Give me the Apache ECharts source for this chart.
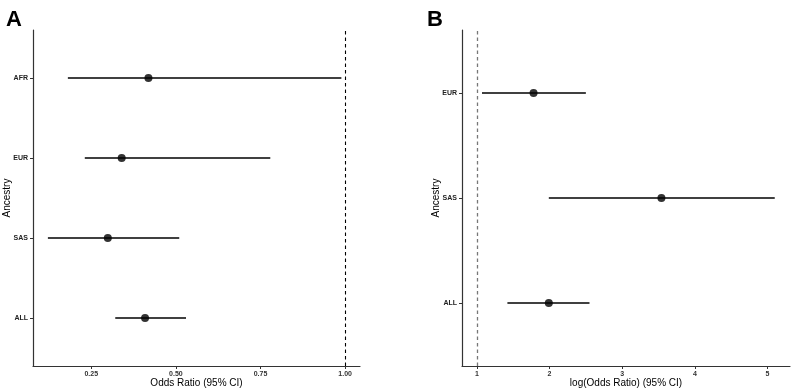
<!DOCTYPE html>
<html>
<head>
<meta charset="utf-8">
<script src="https://cdn.jsdelivr.net/npm/echarts@6/dist/echarts.min.js"></script>
<style>
  html, body { margin: 0; padding: 0; background: #fff; }
  #chart { width: 791px; height: 388px; }
</style>
</head>
<body>
<div id="chart"></div>
<script>
// panel A: odds ratio, bottom to top
const catsA = ['ALL', 'SAS', 'EUR', 'AFR']
const orA = [0.409, 0.299, 0.340, 0.419]
const lowA = [0.321, 0.122, 0.231, 0.181]
const highA = [0.530, 0.510, 0.779, 0.989]
const ticksA = [0.25, 0.5, 0.75, 1.0]

// panel B: log(odds ratio), bottom to top
const catsB = ['ALL', 'SAS', 'EUR']
const orB = [1.99, 3.54, 1.78]
const lowB = [1.42, 1.99, 1.07]
const highB = [2.55, 5.10, 2.50]
const ticksB = [1, 2, 3, 4, 5]

const FONT = 'Liberation Sans'
const AXIS = '#333'

function rows(cats, or, low, high) {
  return cats.map((c, i) => [or[i], i + 1, low[i], high[i]])
}

function errRender(params, api) {
  const y = api.value(1)
  const p1 = api.coord([api.value(2), y])
  const p2 = api.coord([api.value(3), y])
  return {
    type: 'line',
    shape: { x1: p1[0], y1: p1[1], x2: p2[0], y2: p2[1] },
    style: { stroke: '#000', lineWidth: 1.3 },
  }
}

function xAxis(idx, min, max, ticks, name, fmt) {
  return {
    type: 'value', gridIndex: idx, min, max,
    name, nameLocation: 'middle', nameGap: 17, nameMoveOverlap: false,
    nameTextStyle: { fontFamily: FONT, fontSize: 10, color: '#000', verticalAlign: 'middle' },
    splitLine: { show: false },
    axisLine: { show: true, lineStyle: { color: AXIS, width: 1.2 } },
    axisTick: { show: true, customValues: ticks, length: 3, lineStyle: { color: AXIS } },
    axisLabel: { customValues: ticks, formatter: fmt, margin: 5, fontFamily: FONT, fontSize: 7, fontWeight: 'bold', color: '#333' },
  }
}

function yAxis(idx, cats) {
  const pos = cats.map((c, i) => i + 1)
  return {
    type: 'value', gridIndex: idx, min: 0.4, max: cats.length + 0.6,
    name: 'Ancestry', nameLocation: 'middle', nameGap: 26, nameRotate: 90, nameMoveOverlap: false,
    nameTextStyle: { fontFamily: FONT, fontSize: 10, color: '#000', verticalAlign: 'middle' },
    splitLine: { show: false },
    axisLine: { show: true, lineStyle: { color: AXIS, width: 1.2 } },
    axisTick: { show: true, customValues: pos, length: 3, lineStyle: { color: AXIS } },
    axisLabel: { customValues: pos, formatter: (v) => cats[Math.round(v) - 1], margin: 5, fontFamily: FONT, fontSize: 7, fontWeight: 'bold', color: '#222' },
  }
}

function refLine(color, width) {
  return {
    silent: true, symbol: 'none', label: { show: false },
    lineStyle: { type: [3.5, 3], color, width },
    data: [{ xAxis: 1 }],
  }
}

const chart = echarts.init(document.getElementById('chart'))
chart.setOption({
  animation: false,
  title: [
    { text: 'A', left: 1, top: 4, textStyle: { fontFamily: FONT, fontSize: 22, fontWeight: 'bold', color: '#000' } },
    { text: 'B', left: 422, top: 4, textStyle: { fontFamily: FONT, fontSize: 22, fontWeight: 'bold', color: '#000' } },
  ],
  grid: [
    { left: 33, top: 30, width: 327, height: 336, outerBoundsMode: 'none', containLabel: false },
    { left: 462, top: 30, width: 328, height: 336, outerBoundsMode: 'none', containLabel: false },
  ],
  xAxis: [
    xAxis(0, 0.078, 1.044, ticksA, 'Odds Ratio (95% CI)', (v) => v.toFixed(2)),
    xAxis(1, 0.795, 5.31, ticksB, 'log(Odds Ratio) (95% CI)', (v) => String(v)),
  ],
  yAxis: [yAxis(0, catsA), yAxis(1, catsB)],
  series: [
    {
      type: 'custom', xAxisIndex: 0, yAxisIndex: 0, renderItem: errRender,
      encode: { x: [2, 3], y: 1 }, data: rows(catsA, orA, lowA, highA), z: 2,
    },
    {
      type: 'scatter', xAxisIndex: 0, yAxisIndex: 0, symbolSize: 8,
      itemStyle: { color: '#000' }, data: rows(catsA, orA, lowA, highA), z: 3,
      markLine: refLine('#000', 1.1),
    },
    {
      type: 'custom', xAxisIndex: 1, yAxisIndex: 1, renderItem: errRender,
      encode: { x: [2, 3], y: 1 }, data: rows(catsB, orB, lowB, highB), z: 2,
    },
    {
      type: 'scatter', xAxisIndex: 1, yAxisIndex: 1, symbolSize: 8,
      itemStyle: { color: '#000' }, data: rows(catsB, orB, lowB, highB), z: 3,
      markLine: refLine('#777', 1.3),
    },
  ],
})
</script>
</body>
</html>
